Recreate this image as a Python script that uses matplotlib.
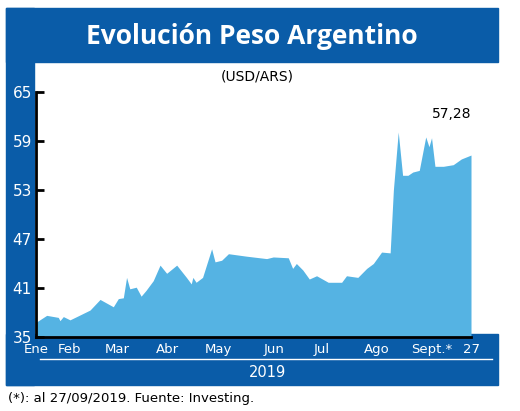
import matplotlib
matplotlib.use("Agg")
import matplotlib.pyplot as plt
from matplotlib.patches import Rectangle
from matplotlib.lines import Line2D

days = [0, 6.6, 13.8, 14.8, 16.9, 21, 26.2, 33.4, 39.6, 47.8, 50.9, 54, 56, 58, 62, 65, 68, 72.5,
        76.7, 80.8, 87, 93, 96, 97, 99, 103, 108.6, 110.7, 114.8, 119, 130, 142.6, 146.7, 156,
        158.7, 161, 165, 169, 173.5, 180.7, 189, 192, 199, 204.5, 208.6, 213.7, 219, 221, 224,
        226.7, 230, 233, 237, 241, 243, 244.6, 246.7, 251.9, 258, 263, 269]
values = [36.8, 37.65, 37.4, 37.0, 37.5, 37.1, 37.6, 38.3, 39.6, 38.7, 39.7, 39.8, 42.3, 40.9, 41.1,
          40.0, 40.7, 41.9, 43.8, 42.8, 43.8, 42.3, 41.5, 42.3, 41.7, 42.3, 45.8, 44.2, 44.4, 45.2,
          44.9, 44.6, 44.8, 44.7, 43.4, 44.0, 43.2, 42.1, 42.5, 41.7, 41.7, 42.5, 42.3, 43.4, 44.0,
          45.4, 45.3, 53.0, 60.1, 54.8, 54.8, 55.2, 55.4, 59.5, 58.3, 59.4, 55.9, 55.9, 56.1, 56.8, 57.28]
tick_pos = [0, 20.6, 50, 81, 113, 147, 176.5, 210.5, 245, 269]
tick_labels = ["Ene", "Feb", "Mar", "Abr", "May", "Jun", "Jul", "Ago", "Sept.*", "27"]
yticks = [35, 41, 47, 53, 59, 65]

W, H = 520, 411
BLUE = "#0a5ca8"
FILL = "#55b3e3"
fig = plt.figure(figsize=(W / 100, H / 100), dpi=100)
fig.patch.set_facecolor("white")

def rect(x0, y0, x1, y1, color):
    fig.patches.append(Rectangle((x0 / W, 1 - y1 / H), (x1 - x0) / W, (y1 - y0) / H,
                                 transform=fig.transFigure, color=color, zorder=-5))

rect(6, 8, 498, 62, BLUE)
rect(6, 8, 34, 385, BLUE)
rect(6, 334, 498, 385, BLUE)
fig.lines.append(Line2D([40 / W, 492 / W], [1 - 359 / H] * 2, transform=fig.transFigure,
                        color="white", lw=1, zorder=-4))

fig.text(252 / W, 1 - 36 / H, "Evolución Peso Argentino", color="white", fontsize=19,
         fontweight="bold", ha="center", va="center", family="Open Sans")
fig.text(257 / W, 1 - 77 / H, "(USD/ARS)", fontsize=10, ha="center", va="center")
fig.text(267 / W, 1 - 372 / H, "2019", color="white", fontsize=10.5, ha="center", va="center")
fig.text(8 / W, 1 - 398 / H, "(*): al 27/09/2019. Fuente: Investing.", fontsize=9.5,
         ha="left", va="center")

ax = fig.add_axes([36 / W, 1 - 337 / H, (471 - 36) / W, (337 - 92) / H])
ax.set_zorder(2)
ax.set_facecolor("none")
ax.fill_between(days, 35, values, color=FILL, lw=0)
ax.set_xlim(0, 269)
ax.set_ylim(35, 65)
for s in ["top", "right"]:
    ax.spines[s].set_visible(False)
ax.spines["left"].set_linewidth(2)
ax.spines["bottom"].set_linewidth(2)
ax.set_yticks(yticks)
ax.tick_params(axis="y", direction="in", length=6, width=2, colors="black",
               labelcolor="white", labelsize=11, pad=3)
ax.set_xticks(tick_pos)
ax.set_xticklabels(tick_labels)
ax.tick_params(axis="x", length=0, labelcolor="white", labelsize=9.5, pad=4)
ax.text(days[-1], 62.3, "57,28", ha="right", va="center", fontsize=10)

fig.savefig("out.png", dpi=100)
